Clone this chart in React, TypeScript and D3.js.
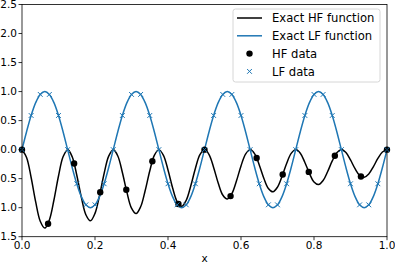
import React from 'react';
import * as d3 from 'd3';

// sample grid for the exact curves (x = 0 .. 1, step 0.0125)
const curveX = d3.range(81).map(j => j / 80);

const hfCurve = [
  0, -0.134, -0.480, -0.901, -1.234, -1.352, -1.211, -0.868, -0.454, -0.124,
  0, -0.122, -0.437, -0.819, -1.121, -1.227, -1.098, -0.787, -0.411, -0.112,
  0, -0.110, -0.394, -0.737, -1.008, -1.102, -0.985, -0.705, -0.368, -0.100,
  0, -0.098, -0.350, -0.656, -0.895, -0.977, -0.872, -0.623, -0.324, -0.088,
  0, -0.086, -0.307, -0.574, -0.782, -0.852, -0.759, -0.541, -0.281, -0.077,
  0, -0.074, -0.264, -0.492, -0.669, -0.727, -0.646, -0.459, -0.238, -0.065,
  0, -0.062, -0.221, -0.410, -0.556, -0.602, -0.533, -0.377, -0.195, -0.053,
  0, -0.050, -0.178, -0.328, -0.443, -0.477, -0.420, -0.296, -0.152, -0.041,
  0,
];

const lfCurve = [
  0, 0.309, 0.588, 0.809, 0.951, 1, 0.951, 0.809, 0.588, 0.309,
  0, -0.309, -0.588, -0.809, -0.951, -1, -0.951, -0.809, -0.588, -0.309,
  0, 0.309, 0.588, 0.809, 0.951, 1, 0.951, 0.809, 0.588, 0.309,
  0, -0.309, -0.588, -0.809, -0.951, -1, -0.951, -0.809, -0.588, -0.309,
  0, 0.309, 0.588, 0.809, 0.951, 1, 0.951, 0.809, 0.588, 0.309,
  0, -0.309, -0.588, -0.809, -0.951, -1, -0.951, -0.809, -0.588, -0.309,
  0, 0.309, 0.588, 0.809, 0.951, 1, 0.951, 0.809, 0.588, 0.309,
  0, -0.309, -0.588, -0.809, -0.951, -1, -0.951, -0.809, -0.588, -0.309,
  0,
];

// high-fidelity samples
const hfX = d3.range(15).map(k => k / 14);
const hfY = [0, -1.276, -0.239, -0.733, -0.690, -0.199, -0.937, 0, -0.801, -0.145, -0.428, -0.384, -0.105, -0.462, 0];

// low-fidelity samples
const lfX = d3.range(41).map(k => k / 40);
const lfY = [
  0, 0.588, 0.951, 0.951, 0.588, 0, -0.588, -0.951, -0.951, -0.588,
  0, 0.588, 0.951, 0.951, 0.588, 0, -0.588, -0.951, -0.951, -0.588,
  0, 0.588, 0.951, 0.951, 0.588, 0, -0.588, -0.951, -0.951, -0.588,
  0, 0.588, 0.951, 0.951, 0.588, 0, -0.588, -0.951, -0.951, -0.588,
  0,
];

const xTicks = [0, 0.2, 0.4, 0.6, 0.8, 1.0];
const xTickLabels = ['0.0', '0.2', '0.4', '0.6', '0.8', '1.0'];
const yTicks = [-1.5, -1.0, -0.5, 0, 0.5, 1.0, 1.5, 2.0, 2.5];
const yTickLabels = ['1.5', '1.0', '0.5', '0.0', '0.5', '1.0', '1.5', '2.0', '2.5'];

const legendLabels = ['Exact HF function', 'Exact LF function', 'HF data', 'LF data'];

const W = 395;
const H = 263;
const plot = { left: 22, right: 387, top: 4.5, bottom: 236.7 };
const blue = '#1f77b4';
const font = 'DejaVu Sans, sans-serif';

export default function App() {
  const x = d3.scaleLinear().domain([0, 1]).range([plot.left, plot.right]);
  const y = d3.scaleLinear().domain([-1.5, 2.5]).range([plot.bottom, plot.top]);

  const line = d3.line<[number, number]>()
    .x(d => x(d[0]))
    .y(d => y(d[1]))
    .curve(d3.curveCatmullRom.alpha(0.5));

  const hfPath = line(curveX.map((v, i) => [v, hfCurve[i]]) as [number, number][]) || '';
  const lfPath = line(curveX.map((v, i) => [v, lfCurve[i]]) as [number, number][]) || '';

  const xm = 2.4; // half size of the "x" markers

  // legend layout
  const lg = { left: 233, right: 380, top: 9, bottom: 82 };
  const rowY = (i: number) => 18 + i * 17.8;

  return (
    <svg width={W} height={H} style={{ position: 'absolute', left: 0, top: 0, background: '#fff' }}
      fontFamily={font}>
      <rect width={W} height={H} fill="#fff" />

      <defs>
        <clipPath id="plotclip">
          <rect x={plot.left} y={plot.top} width={plot.right - plot.left} height={plot.bottom - plot.top} />
        </clipPath>
      </defs>

      <g clipPath="url(#plotclip)">
        <path d={hfPath} fill="none" stroke="#000" strokeWidth={1.5} />
        <path d={lfPath} fill="none" stroke={blue} strokeWidth={1.5} />
      </g>

      {hfX.map((v, i) => (
        <circle key={'h' + i} cx={x(v)} cy={y(hfY[i])} r={3.2} fill="#000" />
      ))}

      {lfX.map((v, i) => {
        const cx = x(v);
        const cy = y(lfY[i]);
        return (
          <path key={'l' + i}
            d={`M${cx - xm},${cy - xm}L${cx + xm},${cy + xm}M${cx - xm},${cy + xm}L${cx + xm},${cy - xm}`}
            stroke={blue} strokeWidth={1} fill="none" />
        );
      })}

      {/* frame */}
      <rect x={plot.left} y={plot.top} width={plot.right - plot.left} height={plot.bottom - plot.top}
        fill="none" stroke="#000" strokeWidth={0.8} />

      {/* x axis */}
      {xTicks.map((t, i) => (
        <g key={'xt' + i}>
          <line x1={x(t)} x2={x(t)} y1={plot.bottom} y2={plot.bottom + 3.5} stroke="#000" strokeWidth={0.8} />
          <text x={x(t)} y={249} fontSize={10.5} textAnchor="middle" fill="#000">{xTickLabels[i]}</text>
        </g>
      ))}
      <text x={(plot.left + plot.right) / 2} y={261.5} fontSize={10.5} textAnchor="middle" fill="#000">x</text>

      {/* y axis */}
      {yTicks.map((t, i) => (
        <g key={'yt' + i}>
          <line x1={plot.left - 3.5} x2={plot.left} y1={y(t)} y2={y(t)} stroke="#000" strokeWidth={0.8} />
          <text x={17} y={y(t)} dy="0.36em" fontSize={10.5} textAnchor="end" fill="#000">{yTickLabels[i]}</text>
        </g>
      ))}

      {/* legend */}
      <rect x={lg.left} y={lg.top} width={lg.right - lg.left} height={lg.bottom - lg.top} rx={2.5}
        fill="#fff" fillOpacity={0.8} stroke="#cccccc" strokeWidth={0.8} />
      <line x1={237} x2={262} y1={rowY(0)} y2={rowY(0)} stroke="#000" strokeWidth={1.5} />
      <line x1={237} x2={262} y1={rowY(1)} y2={rowY(1)} stroke={blue} strokeWidth={1.5} />
      <circle cx={249.5} cy={rowY(2)} r={3.2} fill="#000" />
      <path d={`M${249.5 - xm},${rowY(3) - xm}L${249.5 + xm},${rowY(3) + xm}M${249.5 - xm},${rowY(3) + xm}L${249.5 + xm},${rowY(3) - xm}`}
        stroke={blue} strokeWidth={1} fill="none" />
      {legendLabels.map((s, i) => (
        <text key={'lg' + i} x={272} y={rowY(i)} dy="0.36em" fontSize={11.6} fill="#000">{s}</text>
      ))}
    </svg>
  );
}
